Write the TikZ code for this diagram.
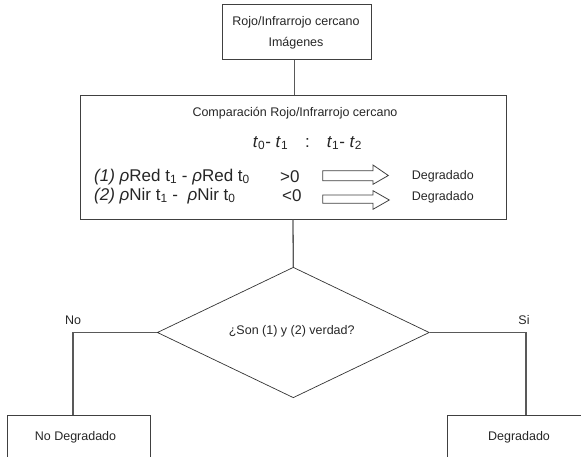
\documentclass[tikz,border=0pt]{standalone}
\usepackage{fontspec}
\setmainfont{Liberation Sans}
\usetikzlibrary{shapes.geometric}
\begin{document}
\begin{tikzpicture}[x=1pt,y=-1pt,
  box/.style={draw=black!75, line width=0.8pt, rectangle, inner sep=0pt},
  conn/.style={draw=black!65, line width=1.3pt},
  hollow/.style={draw=black!75, line width=0.8pt, fill=white},
  lbl/.style={font=\fontsize{12.5}{15}\selectfont, text=black!85, inner sep=0pt},
  big/.style={font=\fontsize{17}{20}\selectfont, text=black!85, inner sep=0pt}]
\useasboundingbox (0,0) rectangle (581,456);
% boxes
\node[box, minimum width=148.3pt, minimum height=55pt] (top) at (296.8,31.8) {};
\node[lbl, align=center, font=\fontsize{12.5}{20.6}\selectfont] (toptxt) at (296,33) {Rojo/Infrarrojo cercano\\Imágenes};
\node[box, minimum width=426pt, minimum height=124pt] (cmp) at (293,157.3) {};
\node[diamond, draw=black!80, line width=0.7pt, inner sep=0pt, minimum width=272pt, minimum height=130.5pt] (dec) at (293.3,332.5) {};
\node[lbl] (dectxt) at (291.7,331.7) {¿Son (1) y (2) verdad?};
\node[box, minimum width=143.4pt, minimum height=50pt] (nodeg) at (79,440.7) {};
\node[lbl] (nodegtxt) at (75.5,437) {No Degradado};
\node[box, minimum width=152.6pt, minimum height=50pt] (deg) at (524,440.7) {};
\node[lbl] (degtxt) at (519,437) {Degradado};
% texts inside comparison box
\node[lbl] (title) at (295,113.3) {Comparación Rojo/Infrarrojo cercano};
\node[big] (tline) at (307.5,143) {\textit{t}\textsubscript{0}- \textit{t}\textsubscript{1}\quad:\quad\textit{t}\textsubscript{1}- \textit{t}\textsubscript{2}};
\node[big, anchor=west] (l1) at (94,177) {\textit{(1) ρ}Red t\textsubscript{1} - \textit{ρ}Red t\textsubscript{0}};
\node[big, anchor=west] (l2) at (94,196) {\textit{(2) ρ}Nir t\textsubscript{1} -\ \ \textit{ρ}Nir t\textsubscript{0}};
\node[big, anchor=west] (gt) at (280,177) {>0};
\node[big, anchor=west] (lt) at (282,196) {<0};
\node[lbl, anchor=west] (d1) at (411.7,176) {Degradado};
\node[lbl, anchor=west] (d2) at (411.7,197.5) {Degradado};
% hollow arrows
\draw[hollow] (322.7,170.7) -- (373,170.7) -- (373,165) -- (388.3,175.5) -- (373,184.3) -- (373,180.7) -- (322.7,180.7) -- cycle;
\draw[hollow] (322.7,195) -- (373,195) -- (373,190.7) -- (389.3,200) -- (373,209.3) -- (373,203.3) -- (322.7,203.3) -- cycle;
% connectors
\draw[conn] ([xshift=-2.5pt]top.south) -- ([xshift=-2.5pt]top.south |- cmp.north);
\draw[conn] (cmp.south) -- (dec.north);
\draw[conn] (dec.west) -| ([xshift=-6pt]nodeg.north);
\draw[conn] (dec.east) -| ([xshift=2pt]deg.north);
\node[lbl] (no) at (73,320) {No};
\node[lbl] (si) at (524,320) {Si};
\end{tikzpicture}
\end{document}
